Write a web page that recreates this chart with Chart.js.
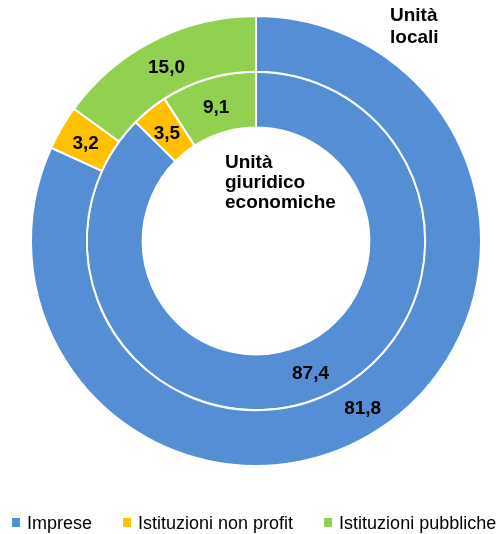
<!DOCTYPE html>
<html>
<head>
<meta charset="utf-8">
<script src="https://cdn.jsdelivr.net/npm/chart.js@4"></script>
<style>
    html, body { margin: 0; padding: 0; background: #fff; }
    #contenitore { width: 500px; height: 534px; position: relative; }
</style>
</head>
<body>
<div id="contenitore"><canvas id="grafico"></canvas></div>
<script>
const categorie = ['Imprese', 'Istituzioni non profit', 'Istituzioni pubbliche'];
const unitaLocali = [81.8, 3.2, 15.0];
const unitaGiuridiche = [87.4, 3.5, 9.1];
const colori = ['#558ED5', '#FFC000', '#92D050'];

const FONT = '"Liberation Sans", Arial, sans-serif';

// etichette dei valori e titoli degli anelli
const etichette = {
    id: 'etichette',
    afterDatasetsDraw(chart) {
        const c = chart.ctx;
        c.save();
        c.fillStyle = '#000';
        c.font = 'bold 19px ' + FONT;
        c.textAlign = 'center';
        c.textBaseline = 'alphabetic';
        chart.data.datasets.forEach((ds, i) => {
            chart.getDatasetMeta(i).data.forEach((arco, j) => {
                const p = arco.tooltipPosition();
                c.fillText(ds.data[j].toFixed(1).replace('.', ','), p.x, p.y + 7.5);
            });
        });

        c.textAlign = 'left';
        c.fillText('Unità', 390, 21);
        c.fillText('locali', 390, 42.5);
        c.fillText('Unità', 225, 168);
        c.fillText('giuridico', 225, 188);
        c.fillText('economiche', 225, 208);
        c.restore();
    }
};

// legenda in basso
const legenda = {
    id: 'legenda',
    afterDraw(chart) {
        const c = chart.ctx;
        c.save();
        c.font = '18px ' + FONT;
        c.textAlign = 'left';
        c.textBaseline = 'alphabetic';
        let x = 12;
        categorie.forEach((nome, i) => {
            c.fillStyle = colori[i];
            c.fillRect(x, 518, 8, 9);
            c.fillStyle = '#000';
            c.fillText(nome, x + 15, 529);
            x += 15 + c.measureText(nome).width + 31;
        });
        c.restore();
    }
};

new Chart(document.getElementById('grafico'), {
    type: 'doughnut',
    data: {
        labels: categorie,
        datasets: [
            {
                label: 'Unità locali',
                data: unitaLocali,
                backgroundColor: colori,
                borderColor: '#fff',
                borderWidth: 2
            },
            {
                label: 'Unità giuridico economiche',
                data: unitaGiuridiche,
                backgroundColor: colori,
                borderColor: '#fff',
                borderWidth: 2
            }
        ]
    },
    options: {
        responsive: true,
        maintainAspectRatio: false,
        animation: false,
        cutout: '50.4%',
        layout: {
            padding: { left: 30, right: 18, top: 15, bottom: 67 }
        },
        plugins: {
            legend: { display: false },
            tooltip: { enabled: false }
        }
    },
    plugins: [etichette, legenda]
});
</script>
</body>
</html>
